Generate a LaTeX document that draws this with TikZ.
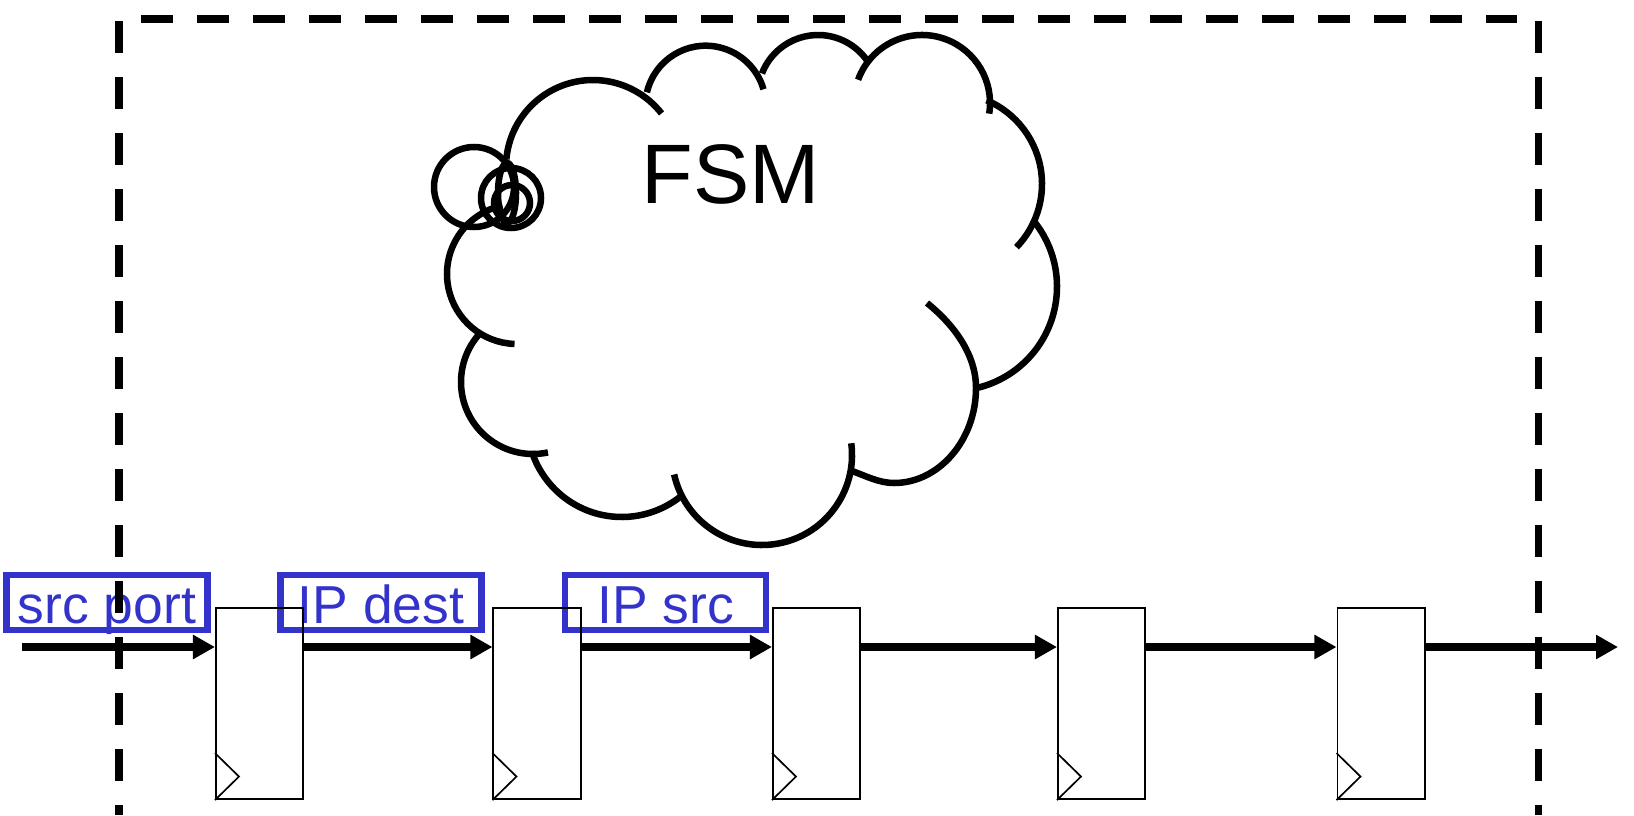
\documentclass[tikz,border=0pt]{standalone}
\usepackage{fontspec}
\setmainfont{Liberation Sans}
\usepackage{tikz}
\usetikzlibrary{arrows.meta, calc}
\definecolor{lblblue}{RGB}{51,51,204}

\begin{document}
\begin{tikzpicture}[
    x=0.01cm, y=-0.01cm, % one unit = one pixel, y pointing down
    reg/.style={rectangle, draw, line width=0.48pt, minimum width=0.873cm, minimum height=1.913cm, inner sep=0pt},
    clk/.style={line width=0.48pt},
    lbl/.style={rectangle, draw=lblblue, text=lblblue, line width=1.85pt, minimum width=2.005cm, minimum height=0.55cm, inner sep=0pt, text height=0.45cm, text depth=0.034cm, font=\fontsize{15.2}{18}\selectfont},
    bus/.style={line width=2.28pt, -{Triangle[length=0.22cm, width=0.23cm]}},
    frame/.style={line width=2.13pt, dash pattern=on 0.32cm off 0.24cm},
    lobe/.style={line width=1.85pt}
]
\useasboundingbox (0,0) rectangle (1634,815);

% --- Field labels ---
\node[lbl] (lblport) at (107,602.5) {src port};
\node[lbl] (lbldest) at (381,602.5) {IP dest};
\node[lbl] (lblsrc) at (665.5,602.5) {IP src};

% --- Pipeline registers ---
\foreach \n/\x in {1/259.5, 2/537, 3/816.5, 4/1101.5, 5/1381}
    \node[reg] (r\n) at (\x,703.5) {};

% clock inputs
\foreach \n in {1,...,5}
    \draw[clk] (r\n.south west) ++(0,-47) -- ++(24,23.5) -- (r\n.south west);

% --- Data path ---
\coordinate (src) at (22,647);
\coordinate (sink) at (1618,647);
\draw[bus] (src) -- (r1.west |- src);
\foreach \a/\b in {1/2, 2/3, 3/4, 4/5}
    \draw[bus] (r\a.east |- src) -- (r\b.west |- src);
\draw[bus] (r5.east |- src) -- (sink);

% --- Dashed frame (bottom edge off the page) ---
\draw[frame] (141,19) -- (1517,19);
\draw[frame] (119,21) -- (119,815);
\draw[frame] (1538.5,21) -- (1538.5,815);

% --- FSM cloud, lobes as center/start/end/radius ---
\foreach \cx/\cy/\a/\b/\r in {593/167/-175/-38/87, 705.6/105.9/-167/-16/60.2, 818/95/-159/-34/60,
    922/103/-160/9/68, 951/184/-67/44/91, 952.8/286.6/-40/77/104.2, 762/455/-7.5/167.5/90,
    621.8/422.4/162/52/94.6, 533/382/223/78/72, 517/274/258/92/70}
    \draw[lobe] (\cx,\cy) ++(\a:\r) arc[start angle=\a, end angle=\b, radius=\r];
% lower right lobe
\draw[lobe] (927,303) .. controls (953.5,324.4) and (976,354) .. (976,388)
    .. controls (976,440) and (939,483) .. (894,483)
    .. controls (879,483) and (866,476) .. (852,471);
% thought bubbles
\draw[lobe] (474,187) circle[radius=40];
\draw[lobe] (511,198) circle[radius=30];
\draw[lobe] (512,203) circle[radius=18];
\draw[lobe] (507,193) ellipse[x radius=9, y radius=30];

\node[font=\fontsize{24}{29}\selectfont, anchor=base] (fsm) at (731,203) {FSM};

\end{tikzpicture}
\end{document}
